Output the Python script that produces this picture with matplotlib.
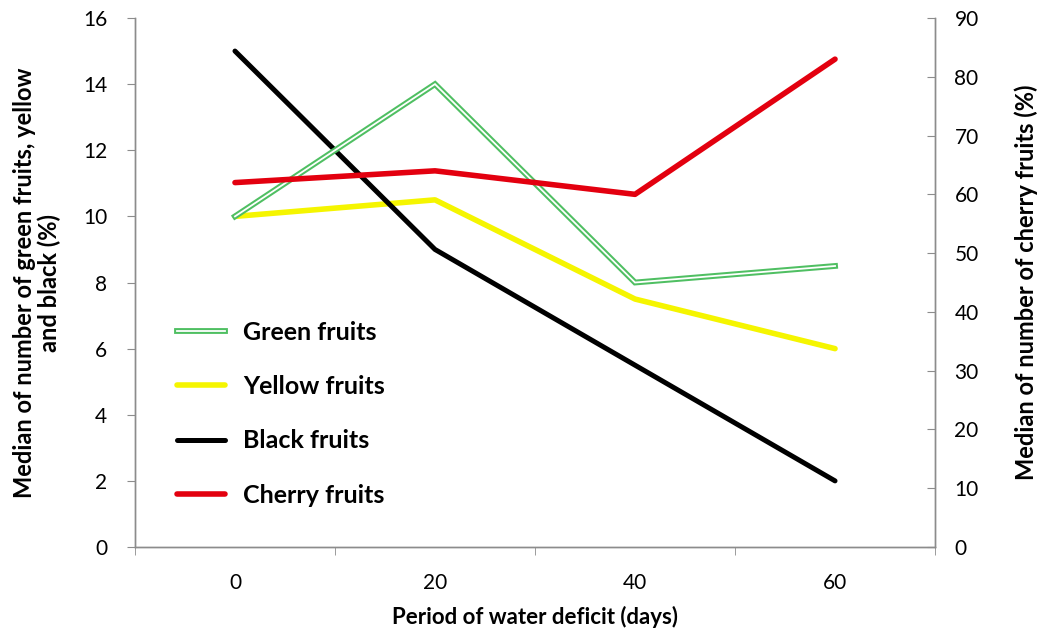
#!/usr/bin/env python3
# Fruit ripening stages vs period of water deficit (dual y-axis line chart)

import matplotlib
matplotlib.use("Agg")

import matplotlib.pyplot as plt
import matplotlib.patheffects as pe

# ------------------------------------------------------------
# Data
# ------------------------------------------------------------
days = ["0", "20", "40", "60"]
green_fruits = [10.0, 14.0, 8.0, 8.5]
yellow_fruits = [10.0, 10.5, 7.5, 6.0]
black_fruits = [15.0, 9.0, 5.5, 2.0]
cherry_fruits = [62.0, 64.0, 60.0, 83.0]   # right axis

left_ticks = [0, 2, 4, 6, 8, 10, 12, 14, 16]
right_ticks = [0, 10, 20, 30, 40, 50, 60, 70, 80, 90]

plt.rcParams["font.family"] = ["Lato", "DejaVu Sans"]

GREEN = "#4fbf62"
YELLOW = "#f5f500"
BLACK = "#000000"
RED = "#e3000f"
AXIS_GRAY = "#8c8c8c"


def main() -> int:
    fig = plt.figure(figsize=(10.43, 6.36), dpi=100)
    ax = fig.add_axes([0.1294, 0.1399, 0.7671, 0.8318])
    ax2 = ax.twinx()

    x = list(range(len(days)))

    # Green fruits: double line (green outline, white core)
    ax.plot(x, green_fruits, color="white", lw=1.3, solid_joinstyle="miter",
            path_effects=[pe.Stroke(linewidth=4.2, foreground=GREEN), pe.Normal()],
            label="Green fruits", zorder=3)
    ax.plot(x, yellow_fruits, color=YELLOW, lw=4, label="Yellow fruits",
            solid_capstyle="round", zorder=2)
    ax.plot(x, black_fruits, color=BLACK, lw=3.6, label="Black fruits",
            solid_capstyle="round", zorder=2)
    ax2.plot(x, cherry_fruits, color=RED, lw=4, label="Cherry fruits",
             solid_capstyle="round")

    # ------------------------------------------------------------
    # Axes styling (category axis, Excel-like)
    # ------------------------------------------------------------
    ax.set_xlim(-0.5, len(days) - 0.5)
    ax.set_ylim(0, 16)
    ax2.set_ylim(0, 90)

    ax.set_xticks(x)
    ax.set_xticklabels(days)
    ax.set_xticks([i - 0.5 for i in range(len(days) + 1)], minor=True)
    ax.tick_params(axis="x", which="major", length=0, pad=19, labelsize=15)
    ax.tick_params(axis="x", which="minor", length=6, color=AXIS_GRAY, direction="out")

    ax.set_yticks(left_ticks)
    ax.tick_params(axis="y", length=6, color=AXIS_GRAY, labelsize=15, pad=14)
    ax2.set_yticks(right_ticks)
    ax2.tick_params(axis="y", length=6, color=AXIS_GRAY, labelsize=15, pad=14, direction="in")

    for a in (ax, ax2):
        a.spines["top"].set_visible(False)
        for s in ("left", "right", "bottom"):
            a.spines[s].set_color(AXIS_GRAY)
            a.spines[s].set_linewidth(1.0)

    ax.set_xlabel("Period of water deficit (days)", fontsize=16, fontweight="bold", labelpad=9)
    ax.set_ylabel("Median of number of green fruits, yellow\nand black (%)",
                  fontsize=17, fontweight="bold", labelpad=16, linespacing=1.05)
    ax2.set_ylabel("Median of number of cherry fruits (%)", fontsize=17,
                   fontweight="bold", labelpad=26)

    # ------------------------------------------------------------
    # Legend
    # ------------------------------------------------------------
    handles = ax.get_lines() + ax2.get_lines()
    ax.legend(handles, [h.get_label() for h in handles],
              loc="upper left", bbox_to_anchor=(0.025, 0.47),
              frameon=False, handlelength=1.9, labelspacing=1.25,
              handletextpad=0.72, prop={"weight": "bold", "size": 18})

    fig.savefig("out.png", dpi=100)
    plt.close(fig)
    return 0


if __name__ == "__main__":
    raise SystemExit(main())
